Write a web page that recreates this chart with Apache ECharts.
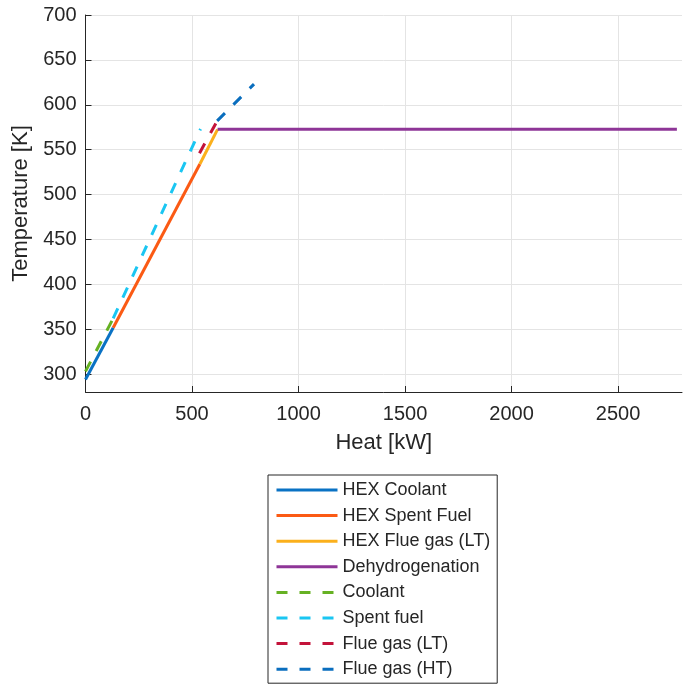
<!DOCTYPE html>
<html>
<head>
<meta charset="utf-8">
<script src="https://cdn.jsdelivr.net/npm/echarts@6/dist/echarts.min.js"></script>
<style>
html,body{margin:0;padding:0;background:#fff;}
#chart{width:692px;height:685px;}
</style>
</head>
<body>
<div id="chart"></div>
<script>
// ---- data (Heat [kW], Temperature [K]) ----
const hexCoolantQ = [0, 130];
const hexCoolantT = [294, 351.5];
const hexSpentFuelQ = [130, 537];
const hexSpentFuelT = [351.5, 534];
const hexFlueLTQ = [537, 620];
const hexFlueLTT = [534, 572.6];
const dehydroQ = [620, 2776];
const dehydroT = [572.6, 572.6];
const coolantQ = [0, 130];
const coolantT = [303, 362];
const spentFuelQ = [130, 540];
const spentFuelT = [362, 573];
const flueLTQ = [535, 618];
const flueLTT = [546, 582];
const flueHTQ = [618, 791];
const flueHTT = [582, 623];

const xTicks = [0, 500, 1000, 1500, 2000, 2500];
const yTicks = [300, 350, 400, 450, 500, 550, 600, 650, 700];

const seriesNames = ['HEX Coolant','HEX Spent Fuel','HEX Flue gas (LT)','Dehydrogenation',
  'Coolant','Spent fuel','Flue gas (LT)','Flue gas (HT)'];
const seriesQ = [hexCoolantQ, hexSpentFuelQ, hexFlueLTQ, dehydroQ, coolantQ, spentFuelQ, flueLTQ, flueHTQ];
const seriesT = [hexCoolantT, hexSpentFuelT, hexFlueLTT, dehydroT, coolantT, spentFuelT, flueLTT, flueHTT];
const colors = ['#0a72c4','#fb5a14','#fbb01c','#8e3597','#66b123','#1ac6f2','#c3133a','#0a6ebe'];
const dashed = [false,false,false,false,true,true,true,true];

const txt = '#262626';
const font = 'Liberation Sans, Arial, Helvetica, sans-serif';

const chart = echarts.init(document.getElementById('chart'), null, {renderer:'canvas'});
const series = seriesNames.map((n, i) => ({
  name: n,
  type: 'line',
  data: seriesQ[i].map((q, j) => [q, seriesT[i][j]]),
  showSymbol: false,
  symbol: 'none',
  animation: false,
  lineStyle: {color: colors[i], width: 3, type: dashed[i] ? [11, 12] : 'solid', cap: 'butt'},
  itemStyle: {color: colors[i]},
  z: 2 + i
}));

chart.setOption({
  animation: false,
  backgroundColor: '#fff',
  grid: {left: 85.5, right: 10, top: 15, bottom: 293, containLabel: false},
  xAxis: {
    type: 'value', min: 0, max: 2800,
    name: 'Heat [kW]', nameLocation: 'middle', nameGap: 40,
    nameTextStyle: {color: txt, fontSize: 22, fontFamily: font},
    axisLine: {show: true, onZero: false, lineStyle: {color: txt, width: 1}},
    axisTick: {show: true, inside: true, length: 6, lineStyle: {color: txt}, customValues: xTicks},
    axisLabel: {color: txt, fontSize: 20, fontFamily: font, margin: 12, customValues: xTicks,
      formatter: v => String(v)},
    splitLine: {show: true, lineStyle: {color: '#e4e4e4', width: 1}}
  },
  yAxis: {
    type: 'value', min: 280, max: 700,
    name: 'Temperature [K]', nameLocation: 'middle', nameGap: 50,
    nameTextStyle: {color: txt, fontSize: 22, fontFamily: font},
    axisLine: {show: true, onZero: false, lineStyle: {color: txt, width: 1}},
    axisTick: {show: true, inside: true, length: 6, lineStyle: {color: txt}, customValues: yTicks},
    axisLabel: {color: txt, fontSize: 20, fontFamily: font, margin: 9, customValues: yTicks,
      formatter: v => String(v)},
    splitLine: {show: true, lineStyle: {color: '#e4e4e4', width: 1}}
  },
  legend: {
    orient: 'vertical',
    left: 268, top: 475,
    width: 230,
    padding: [6, 7, 5, 7],
    itemWidth: 61, itemHeight: 18, itemGap: 7.6,
    borderColor: txt, borderWidth: 1,
    backgroundColor: '#fff',
    textStyle: {color: txt, fontSize: 18, fontFamily: font},
    itemStyle: {opacity: 0},
    lineStyle: {width: 3},
    data: seriesNames
  },
  series: series
});
</script>
</body>
</html>
